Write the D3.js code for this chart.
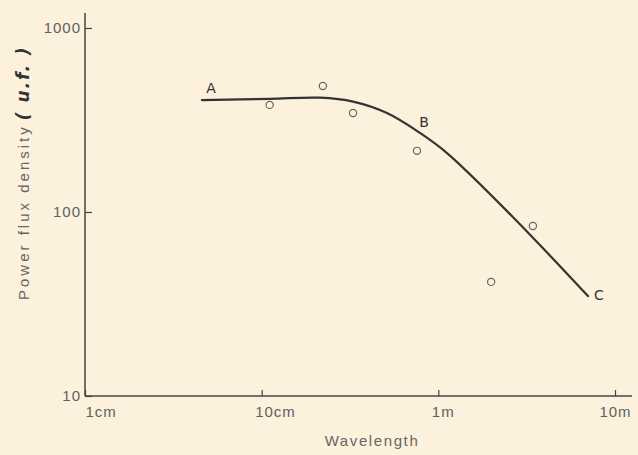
<!DOCTYPE html>
<html>
<head>
<meta charset="utf-8">
<script src="https://cdn.jsdelivr.net/npm/d3@7"></script>
<style>
  html, body { margin: 0; padding: 0; background: #fcf1dc; }
  svg { display: block; }
  .tick text { font-family: "Liberation Sans", Arial, sans-serif; font-size: 15px; fill: #606060; letter-spacing: 1px; }
  .lbl { font-family: "Liberation Sans", Arial, sans-serif; font-size: 15px; fill: #666; letter-spacing: 1.6px; }
  .hand { font-family: "DejaVu Sans", sans-serif; fill: #333; }
</style>
</head>
<body>
<div id="chart"></div>
<script>
// fitted curve A-B-C (wavelength in cm, flux in u.f.)
var curveWavelength = [4.59, 11.1, 21.4, 32.9, 51.2, 78.7, 112, 264, 703];
var curveFlux       = [406, 412, 418, 398, 345, 269, 209, 94, 34.9];

// observed points
var obsWavelength = [11.1, 22.2, 32.9, 75.7, 343, 199];
var obsFlux       = [382, 484, 345, 215, 84, 41.7];

var xTicks = [1, 10, 100, 1000];
var xTickLabels = ["1cm", "10cm", "1m", "10m"];
var yTicks = [10, 100, 1000];

var width = 638, height = 455;
var svg = d3.select("#chart").append("svg")
    .attr("width", width).attr("height", height);

var x = d3.scaleLog().domain([1, 1000]).range([85, 615]);
var y = d3.scaleLog().domain([10, 1000]).range([396, 28]);

// axis lines, a bit longer than the ticks
svg.append("line")
    .attr("x1", x(1)).attr("x2", x(1))
    .attr("y1", 13).attr("y2", y(10))
    .attr("stroke", "#444").attr("stroke-width", 1.5);
svg.append("line")
    .attr("x1", x(1)).attr("x2", 632)
    .attr("y1", y(10)).attr("y2", y(10))
    .attr("stroke", "#444").attr("stroke-width", 1.5);

var yAxis = svg.append("g")
    .attr("transform", "translate(" + x(1) + ",0)")
    .call(d3.axisLeft(y).tickValues(yTicks).tickSize(-7).tickPadding(4)
        .tickFormat(function(d){ return d3.format("d")(d); }));
yAxis.select(".domain").remove();
yAxis.selectAll(".tick line").attr("stroke", "#444").attr("stroke-width", 1.2);

var xAxis = svg.append("g")
    .attr("transform", "translate(0," + y(10) + ")")
    .call(d3.axisBottom(x).tickValues(xTicks).tickSize(-6).tickPadding(0)
        .tickFormat(function(d, i){ return xTickLabels[i]; }));
xAxis.select(".domain").remove();
xAxis.selectAll(".tick line").attr("stroke", "#444").attr("stroke-width", 1.2);
xAxis.selectAll(".tick text")
    .attr("y", 21).attr("dy", 0)
    .attr("text-anchor", function(d, i){ return i == xTicks.length - 1 ? "middle" : "start"; })
    .attr("dx", function(d, i){ return i == 0 ? 0 : (i == xTicks.length - 1 ? 0 : -7); });

// axis titles
svg.append("text")
    .attr("class", "lbl")
    .attr("x", 372).attr("y", 446)
    .attr("text-anchor", "middle")
    .text("Wavelength");

var yt = svg.append("text")
    .attr("class", "lbl")
    .attr("transform", "translate(29,300) rotate(-90)")
    .attr("text-anchor", "start")
    .style("letter-spacing", "3px");
yt.append("tspan").text("Power flux density");
yt.append("tspan")
    .attr("class", "hand")
    .attr("dx", 4)
    .style("font-size", "17px")
    .style("font-style", "italic")
    .style("font-weight", "bold")
    .style("letter-spacing", "2px")
    .text("( u.f. )");

// curve
var curveData = curveWavelength.map(function(d, i){ return {"w": d, "f": curveFlux[i]}; });
var line = d3.line()
    .x(function(d){ return x(d.w); })
    .y(function(d){ return y(d.f); })
    .curve(d3.curveCatmullRom.alpha(0.5));

svg.append("path")
    .datum(curveData)
    .attr("d", line)
    .attr("fill", "none")
    .attr("stroke", "#333")
    .attr("stroke-width", 2.2)
    .attr("stroke-linecap", "round");

// observations
var obsData = obsWavelength.map(function(d, i){ return {"w": d, "f": obsFlux[i]}; });
svg.selectAll(".dot")
    .data(obsData)
    .enter().append("circle")
    .attr("class", "dot")
    .attr("cx", function(d){ return x(d.w); })
    .attr("cy", function(d){ return y(d.f); })
    .attr("r", 3.6)
    .attr("fill", "none")
    .attr("stroke", "#666")
    .attr("stroke-width", 1.2);

// A, B, C markers on the curve
var markLabels = ["A", "B", "C"];
var markAt = [0, 5, 8];
var markOffset = [[9, -7], [4, -6], [11, 4]];
svg.selectAll(".mark")
    .data(markLabels)
    .enter().append("text")
    .attr("class", "hand mark")
    .attr("x", function(d, i){ return x(curveWavelength[markAt[i]]) + markOffset[i][0]; })
    .attr("y", function(d, i){ return y(curveFlux[markAt[i]]) + markOffset[i][1]; })
    .attr("text-anchor", "middle")
    .style("font-size", "14px")
    .text(function(d){ return d; });
</script>
</body>
</html>
